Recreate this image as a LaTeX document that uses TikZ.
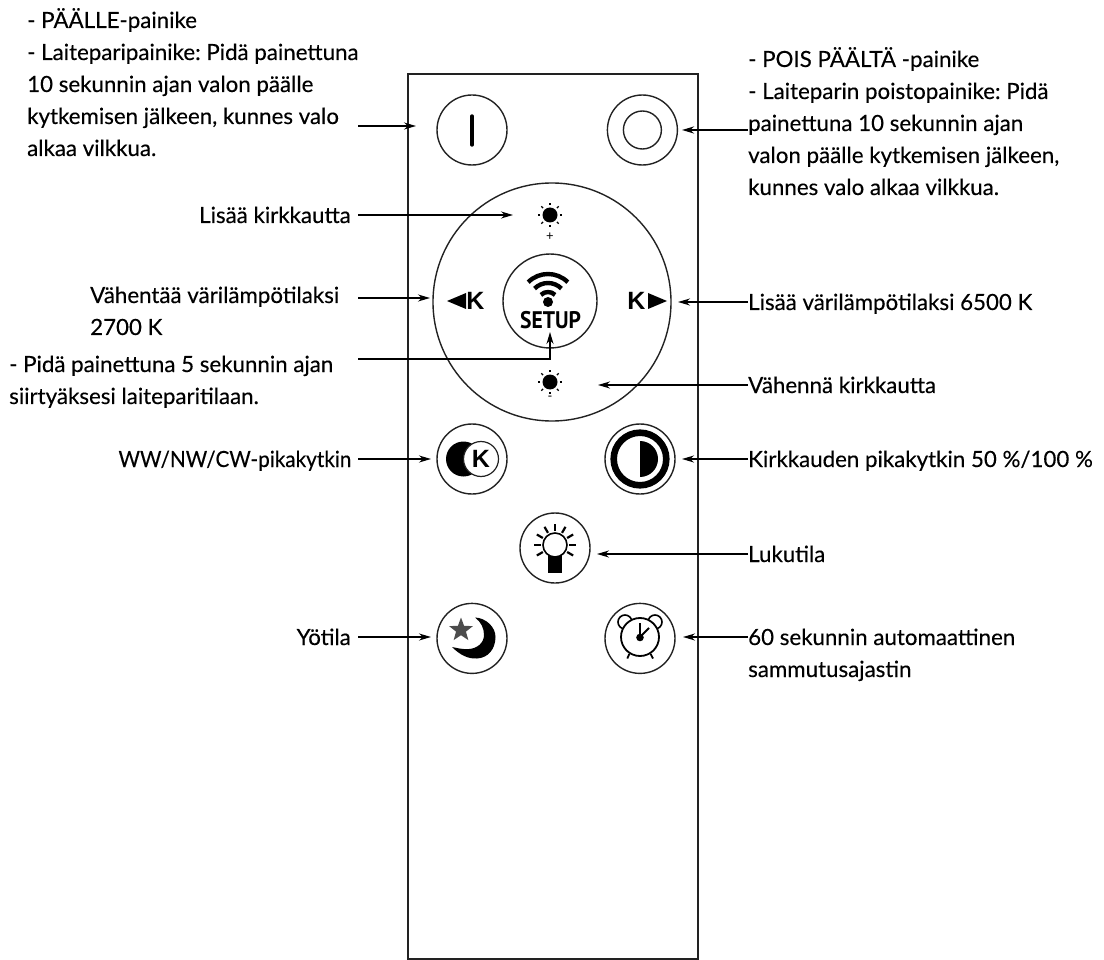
\documentclass[tikz,border=0pt]{standalone}
\usepackage{fontspec}
\setmainfont{Lato}
\newfontfamily\lblfont[FakeBold=0.25]{Lato}
\newfontfamily\keyfont{Liberation Sans}
\newfontfamily\setupfont{PT Sans}
\usetikzlibrary{positioning,arrows.meta,shapes.geometric}
\definecolor{inkline}{HTML}{222222}
\frenchspacing
\tikzset{
  remote/.style={draw=inkline, line width=1.8pt},
  btn/.style={circle, draw=inkline, line width=1.4pt, minimum size=70pt, inner sep=0pt},
  lbl/.style={inner sep=0pt, font=\lblfont\fontsize{22.3}{32}\selectfont, text=black},
  lblleft/.style={lbl, inner xsep=7pt, align=left, anchor=base east},
  lblright/.style={lbl, align=left, anchor=base west},
  lblblock/.style={lbl, align=flush left, anchor=base west},
  conn/.style={line width=1.6pt, -{Stealth[length=12pt,width=7pt]}},
  keytxt/.style={inner sep=0pt, font=\keyfont\bfseries\fontsize{25}{25}\selectfont},
  ray/.style={line width=1.3pt},
  sunmark/.pic={
    \fill circle[radius=7.5];
    \foreach \a in {0,45,...,315}
      \draw[ray] (\a:9.8) -- (\a:12.3);
  },
}
\begin{document}
\begin{tikzpicture}[x=1pt, y=-1pt, node distance=99pt and 99pt]
  \useasboundingbox (0,0) rectangle (1104,960);
  \draw[remote] (408,74) rectangle (698,959);

  \node[btn] (on) at (472,130) {};
  \node[btn, right=99pt of on] (off) {};
  \node[circle, draw=inkline, line width=1.4pt, minimum size=238pt, inner sep=0pt] (pad) at (552,302) {};
  \node[circle, draw=inkline, line width=1.4pt, minimum size=94pt, inner sep=0pt] (setup) at (550,301) {};
  \node[btn] (ww) at (472,459) {};
  \node[btn] (dim) at (640,459) {};
  \node[btn] (read) at (555,548) {};
  \node[btn, below=108pt of ww] (night) {};
  \node[btn, below=108pt of dim] (clock) {};

  % on and off
  \draw[line width=3.4pt, line cap=round] (472,116) -- (472,145);
  \node[circle, draw=inkline, line width=1.4pt, minimum size=38pt, inner sep=0pt] (offring) at (off) {};

  % pad
  \pic at (550,215) {sunmark};
  \pic at (550,382) {sunmark};
  \node[inner sep=0pt, font=\fontsize{13}{13}\selectfont] (plus) at (550,237) {+};
  \node[inner sep=0pt, font=\fontsize{13}{13}\selectfont] (minus) at (550,398) {-};
  \fill (447,301) -- (466,293) -- (466,309) -- cycle;
  \fill (667,301) -- (648,293) -- (648,309) -- cycle;
  \node[keytxt] (kleft) at (475.5,301) {K};
  \node[keytxt] (kright) at (636.5,301) {K};
  \fill (548,302) circle[radius=5];
  \foreach \r in {10,19,28}
    \draw[line width=4.4pt] (548,302) ++(-45:\r) arc[start angle=-45, end angle=-135, radius=\r];
  \node[inner sep=0pt, xscale=.9, font=\setupfont\bfseries\fontsize{24}{24}\selectfont] (setuptxt) at (550.5,320) {SETUP};

  % ww/nw/cw
  \fill (463.5,459) circle[radius=17.5];
  \node[circle, draw=inkline, fill=white, line width=1.2pt, minimum size=35pt, inner sep=0pt, keytxt] (kdisc) at (481,459) {K};

  % brightness
  \draw[line width=6.6pt] (dim) circle[radius=26.3];
  \fill (640,441) arc[start angle=-90, end angle=90, radius=18] -- cycle;

  % reading
  \foreach \a in {90,60,120,30,150,0,180,-30,210}
    \draw[line width=2.2pt] (555,545) ++(-\a:14) -- ++(-\a:7);
  \fill (548.3,553) rectangle (561.7,573);
  \draw[line width=1.6pt, fill=white] (555,545) circle[radius=12];

  % night
  \node[star, star points=5, star point ratio=2.4, fill=black!70, minimum size=25pt, inner sep=0pt] (staricon) at (461,630) {};
  \fill (452,647) .. controls (460,655) and (468,659) .. (477,658.5)
    .. controls (488,658) and (495.5,649) .. (495.5,637)
    .. controls (495.5,627) and (486,618) .. (475,617.5)
    .. controls (481,622) and (484,628) .. (484,635)
    .. controls (484,643) and (477,648.5) .. (469,649)
    .. controls (462,649.5) and (457,648) .. (452,647) -- cycle;

  % timer
  \foreach \x in {625,655}
    \draw[line width=1.6pt] (\x,622) circle[radius=7];
  \draw[line width=1.8pt, fill=white] (640,637) circle[radius=19];
  \draw[line width=1.8pt] (640,623) -- (640,637) -- (649,628);
  \fill (640,637.5) circle[radius=3.8];
  \draw[line width=1.8pt] (629.3,654) -- (627.3,658.5);
  \draw[line width=1.8pt] (650.7,654) -- (653,658.5);

  % labels
  \node[lblblock, text width=345pt] (lblon) at (27,28) {- PÄÄLLE-painike\\- Laiteparipainike: Pidä painettuna\\10 sekunnin ajan valon päälle\\kytkemisen jälkeen, kunnes valo\\alkaa vilkkua.};
  \node[lblright] (lbloff) at (748,195) {- POIS PÄÄLTÄ -painike\\- Laiteparin poistopainike: Pidä\\painettuna 10 sekunnin ajan\\valon päälle kytkemisen jälkeen,\\kunnes valo alkaa vilkkua.};
  \node[lblleft] (lblup) at (358,223) {Lisää kirkkautta};
  \node[lblblock, text width=268pt] (lblwarm) at (90,303) {Vähentää värilämpötilaksi\\2700 K};
  \node[lblright] (lblcold) at (748,310) {Lisää värilämpötilaksi 6500 K};
  \node[lblblock, text width=349pt] (lblsetup) at (9,372) {- Pidä painettuna 5 sekunnin ajan\\siirtyäksesi laiteparitilaan.};
  \node[lblright] (lbldown) at (748,393) {Vähennä kirkkautta};
  \node[lblleft, xscale=.93] (lblww) at (358,467) {WW/NW/CW-pikakytkin};
  \node[lblright] (lbldim) at (748,467) {Kirkkauden pikakytkin 50 \%/100 \%};
  \node[lblright] (lblread) at (748,562) {Lukutila};
  \node[lblleft] (lblnight) at (358,645) {Yötila};
  \node[lblright] (lbltimer) at (748,677) {60 sekunnin automaattinen\\sammutusajastin};

  % connectors
  \coordinate (tipon) at (416,126);
  \coordinate (tipoff) at (682,130);
  \coordinate (tipup) at (513,215);
  \coordinate (tipwarm) at (430,298);
  \coordinate (tipcold) at (678,302);
  \coordinate (bendsetup) at (550,359);
  \coordinate (tipsetup) at (550,332);
  \coordinate (tipdown) at (598,385);
  \coordinate (tipww) at (431,459);
  \coordinate (tipdim) at (682,459);
  \coordinate (tipread) at (597,554);
  \coordinate (tipnight) at (431,637);
  \coordinate (tiptimer) at (683,637);

  \draw[conn, shorten <=-14pt] (lblon.east |- tipon) -- (tipon);
  \draw[conn, line width=2.2pt] (lbloff.west |- tipoff) -- (tipoff);
  \draw[conn] (lblup.east |- tipup) -- (tipup);
  \draw[conn] (lblwarm.east |- tipwarm) -- (tipwarm);
  \draw[conn] (lblcold.west |- tipcold) -- (tipcold);
  \draw[conn] (lblsetup.east |- bendsetup) -- (bendsetup) -- (tipsetup);
  \draw[conn] (lbldown.west |- tipdown) -- (tipdown);
  \draw[conn] (lblww.east |- tipww) -- (tipww);
  \draw[conn] (lbldim.west |- tipdim) -- (tipdim);
  \draw[conn] (lblread.west |- tipread) -- (tipread);
  \draw[conn] (lblnight.east |- tipnight) -- (tipnight);
  \draw[conn] (lbltimer.west |- tiptimer) -- (tiptimer);
\end{tikzpicture}
\end{document}
